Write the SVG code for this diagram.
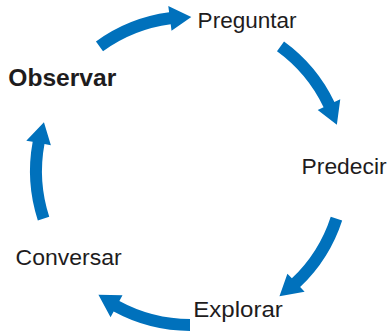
<svg xmlns="http://www.w3.org/2000/svg" xmlns:xlink="http://www.w3.org/1999/xlink" width="391" height="332" viewBox="0 0 391 332">
<style>
.lbl{font-family:"Liberation Sans",Arial,sans-serif;font-size:22px;fill:#1e1c1d}
.bold{font-weight:bold;font-size:24px}
.arr{fill:#0071BC}
</style>
<defs>
<path id="arrow" class="arr" d="M95.95,41.56 A160,160 0 0 1 169.12,12.37 L168.27,5.93 L191.3,17 L171.53,30.72 L170.69,24.27 A148,148 0 0 0 103.01,51.27 Z"/>
</defs>
<rect width="391" height="332" fill="#ffffff"/>
<g id="connectors">
<use xlink:href="#arrow"/>
<use xlink:href="#arrow" transform="rotate(72 190 171)"/>
<use xlink:href="#arrow" transform="rotate(144 190 171)"/>
<use xlink:href="#arrow" transform="rotate(216 190 171)"/>
<use xlink:href="#arrow" transform="rotate(288 190 171)"/>
</g>
<g id="observar"><text class="lbl bold" x="8.3" y="86" textLength="108" lengthAdjust="spacingAndGlyphs">Observar</text></g>
<g id="preguntar"><text class="lbl" x="197.6" y="28.3" textLength="99" lengthAdjust="spacingAndGlyphs">Preguntar</text></g>
<g id="predecir"><text class="lbl" x="301.6" y="174.3" textLength="85" lengthAdjust="spacingAndGlyphs">Predecir</text></g>
<g id="explorar"><text class="lbl" x="193.3" y="316.7" textLength="89.5" lengthAdjust="spacingAndGlyphs">Explorar</text></g>
<g id="conversar"><text class="lbl" x="15.6" y="265.3" textLength="106" lengthAdjust="spacingAndGlyphs">Conversar</text></g>
</svg>
